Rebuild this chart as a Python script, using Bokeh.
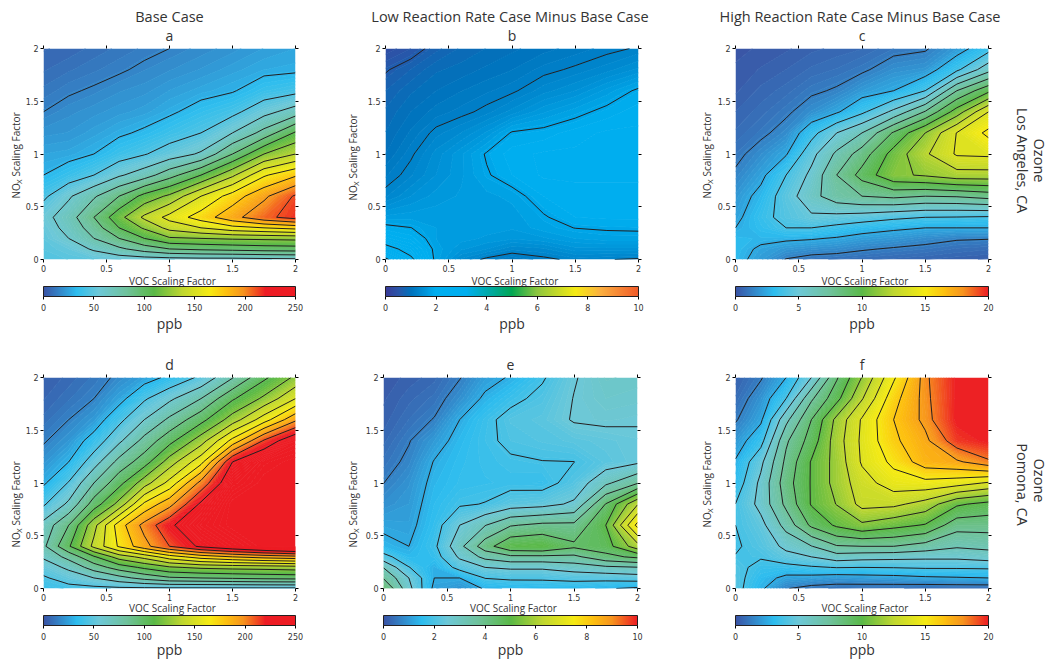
import math
import numpy as np
from bokeh.embed import file_html
from bokeh.layouts import column, row
from bokeh.models import (ColorBar, FixedTicker, Label, LinearAxis, LinearColorMapper,
                          NumeralTickFormatter)
from bokeh.plotting import figure
from bokeh.resources import INLINE

voc = [0, 0.2, 0.4, 0.6, 0.8, 1, 1.25, 1.5, 1.75, 2]
nox = [0, 0.1, 0.2, 0.3, 0.4, 0.6, 0.8, 1, 1.2, 1.4, 1.6, 1.8, 2]
ticks = [0, 0.5, 1, 1.5, 2]

base_la = [
    [46, 48, 50, 52, 53, 54, 55, 55, 56, 57],
    [48, 52, 62, 72, 82, 90, 93, 95, 97, 98],
    [50, 60, 75, 90, 105, 118, 120, 122, 123, 124],
    [52, 65, 82, 105, 122, 140, 150, 160, 165, 170],
    [55, 68, 90, 115, 138, 155, 172, 190, 206, 216],
    [42, 58, 73, 90, 110, 123, 150, 172, 192, 212],
    [30, 37, 45, 58, 68, 84, 105, 132, 163, 178],
    [25, 26, 30, 38, 44, 52, 62, 90, 120, 135],
    [20, 21, 24, 28, 32, 38, 45, 60, 80, 107],
    [15, 18, 20, 22, 24, 28, 35, 41, 55, 67],
    [11, 14, 16, 18.5, 20, 23, 26, 29, 37, 41],
    [8, 10, 12, 14, 16.5, 18.5, 21, 24, 27, 28],
    [6, 7, 9, 11, 13, 15, 17.5, 20, 23, 25],
]
low_la = [
    [3.2, 2.6, 1.8, 1.4, 1.2, 1.1, 1.2, 1.3, 1.26, 1.22],
    [2.7, 2.3, 1.8, 1.6, 1.5, 1.35, 1.4, 1.55, 1.55, 1.55],
    [2.2, 2.05, 1.75, 1.7, 1.65, 1.6, 1.65, 1.75, 1.8, 1.8],
    [1.95, 1.88, 1.75, 1.72, 1.7, 1.68, 1.8, 1.88, 1.9, 1.91],
    [1.7, 1.72, 1.72, 1.7, 1.7, 1.7, 1.85, 2, 2.02, 2.02],
    [1.32, 1.5, 1.62, 1.68, 1.72, 1.78, 2, 2.05, 2.05, 2.05],
    [1.15, 1.32, 1.5, 1.65, 1.85, 2, 2.1, 2.1, 2.1, 2.1],
    [1, 1.22, 1.45, 1.65, 1.9, 2.05, 2.1, 2.1, 2.1, 2.1],
    [0.92, 1.1, 1.3, 1.42, 1.6, 1.9, 1.95, 2.05, 2.1, 2.1],
    [0.85, 1, 1.12, 1.2, 1.3, 1.45, 1.65, 1.8, 1.95, 2.05],
    [0.75, 0.9, 1, 1.08, 1.15, 1.22, 1.38, 1.5, 1.7, 1.92],
    [0.6, 0.75, 0.9, 0.95, 1.02, 1.08, 1.2, 1.28, 1.38, 1.52],
    [0.35, 0.5, 0.72, 0.85, 0.92, 0.98, 1.05, 1.12, 1.2, 1.27],
]
high_la = [
    [2.9, 2.05, 1.2, 0.9, 0.8, 0.7, 0.6, 0.5, 0.4, 0.3],
    [3, 2.3, 1.9, 1.7, 1.6, 1.35, 1.15, 1, 0.8, 0.7],
    [2.9, 2.8, 2.7, 2.6, 2.4, 2.1, 1.9, 1.6, 1.35, 1.3],
    [2.5, 3.1, 3.75, 3.75, 3.4, 3, 2.7, 2.5, 2.5, 2.5],
    [2.2, 3.3, 4.2, 4.8, 4.6, 4.4, 4, 3.75, 3.7, 3.6],
    [1.9, 2.85, 4.4, 5.8, 7, 7.5, 7.8, 7.5, 7.6, 8],
    [1.4, 2.2, 3.75, 5.3, 7.5, 9.2, 11, 11.4, 12, 12],
    [1, 1.65, 2.4, 4.6, 6.5, 8.1, 10.5, 12.3, 13.9, 14],
    [0.7, 1.05, 1.6, 3.3, 5, 6.25, 8.9, 11.25, 13.8, 15.3],
    [0.5, 0.75, 1.1, 1.7, 2.35, 3.5, 5.3, 7.6, 10.6, 13.75],
    [0.3, 0.55, 0.75, 1.1, 1.35, 2, 2.5, 3.75, 7.5, 9.7],
    [0.2, 0.35, 0.5, 0.7, 0.85, 1.1, 1.7, 1.9, 3.5, 5.8],
    [0.1, 0.2, 0.3, 0.45, 0.55, 0.65, 1, 1.15, 2, 3.3],
]
base_pom = [
    [38, 40, 41, 42, 42, 42, 42, 42, 42, 42],
    [43, 52, 60, 70, 80, 88, 90, 92, 94, 95],
    [52, 63, 82, 97, 108, 118, 123, 125, 126, 128],
    [62, 80, 103, 127, 140, 158, 172, 180, 186, 190],
    [72, 103, 139, 167, 190, 210, 228, 240, 250, 260],
    [65, 90, 130, 173, 200, 222, 240, 250, 260, 260],
    [43, 63, 97, 125, 168, 190, 228, 250, 260, 260],
    [28, 46, 75, 100, 128, 155, 200, 240, 255, 260],
    [20, 30, 53, 80, 98, 127, 160, 225, 245, 260],
    [14, 21, 36, 57, 80, 100, 128, 170, 212, 240],
    [9, 15, 22, 41, 60, 78, 100, 127, 158, 192],
    [6, 10, 15, 25, 43, 57, 75, 103, 123, 150],
    [4, 7, 11, 17, 24, 33, 48, 74, 102, 123],
]
low_pom = [
    [4.4, 2.7, 1.1, 0.9, 1.3, 1.35, 1.4, 1.4, 1.3, 1.15],
    [3.7, 2.5, 1.25, 1.25, 1.9, 2, 2, 2.1, 2.1, 2.2],
    [3.1, 1.9, 1.3, 2.1, 2.5, 2.6, 2.6, 2.8, 3, 3.1],
    [2.1, 1.45, 1.6, 2.6, 3.3, 3.6, 3.6, 3.6, 4.2, 4.5],
    [1.4, 1.25, 1.75, 2.95, 4.1, 4.9, 5, 4.5, 4.7, 6],
    [1.15, 1.1, 1.6, 2.5, 3.1, 3.7, 3.9, 3.9, 5, 7.7],
    [0.85, 1, 1.5, 1.8, 1.9, 2.2, 2.3, 2.6, 4.4, 6.2],
    [0.62, 0.9, 1.4, 1.6, 1.65, 1.7, 1.65, 2.1, 3, 3.7],
    [0.45, 0.72, 1.28, 1.55, 1.7, 1.8, 1.86, 1.87, 2.2, 2.4],
    [0.3, 0.6, 1, 1.45, 1.75, 2, 2.1, 2.2, 2.3, 2.4],
    [0.2, 0.42, 0.65, 1.25, 1.7, 2.1, 2.2, 2.55, 2.6, 2.55],
    [0.15, 0.3, 0.45, 0.85, 1.35, 1.7, 2.05, 2.52, 2.75, 2.7],
    [0.1, 0.2, 0.3, 0.6, 1.05, 1.3, 1.8, 2.45, 2.85, 2.8],
]
high_pom = [
    [4.2, 2.7, 1.3, 0.9, 0.8, 0.75, 0.7, 0.6, 0.6, 0.6],
    [4.2, 3, 2.2, 2.1, 1.9, 2, 2.1, 2.3, 2.4, 2.5],
    [4.1, 3.4, 3.3, 3.6, 3.8, 3.75, 3.8, 3.9, 3.9, 3.95],
    [3.8, 3.85, 4.6, 5, 5.7, 5.5, 5.4, 5.3, 5.3, 5.6],
    [3.6, 4.2, 5.3, 6.2, 7.4, 7.5, 7.5, 7, 6.4, 6.6],
    [3.75, 4.6, 6.7, 9, 10.2, 11, 10.4, 9.9, 8, 8],
    [3.76, 5.4, 7.8, 10.1, 11.3, 12.9, 12.8, 12, 10.2, 9.6],
    [3, 5.3, 8.2, 10.1, 11.7, 13.2, 14.4, 14.6, 14.3, 13.6],
    [2.6, 4.7, 7.8, 10.1, 11.7, 13.9, 15.3, 16.9, 17.3, 18.3],
    [1.9, 3.3, 7.3, 9.3, 11.9, 14, 16, 17.2, 19.5, 22],
    [1.15, 2.3, 5.9, 8.75, 11.6, 13.9, 16.25, 17.8, 22, 24],
    [0.7, 1.8, 3.75, 7.3, 9.6, 12.4, 15.8, 17.9, 23, 24],
    [0.4, 1.15, 2.5, 5, 8.6, 11.3, 14.8, 18, 24, 24],
]

STOPS_MAIN = [(0, "#3a53a4"), (3 / 20, "#2dbdef"), (5 / 20, "#6dc8d8"), (7.5 / 20, "#6fc29b"),
              (10 / 20, "#5ab947"), (12.5 / 20, "#bfd730"), (15 / 20, "#f6eb14"), (16.5 / 20, "#fdc010"),
              (18 / 20, "#f7941e"), (1, "#ed1c24")]
STOPS_SAT = [(f * 220 / 250, c) for f, c in STOPS_MAIN] + [(1, "#ed1c24")]
STOPS_LOW = [(0, "#3a3a98"), (0.05, "#2b55a8"), (0.1, "#0072bc"), (0.2, "#00aeef"), (0.32, "#00aeef"),
             (0.42, "#00a99d"), (0.5, "#00a651"), (0.6, "#8dc63f"), (0.75, "#f6eb14"), (0.85, "#fbb040"),
             (1, "#f15a29")]
LINE = "#231f20"
TEXT = "#333333"
FONT = "Open Sans"
FRAME_H = 211


def make_palette(stops, n):
    fr = [s[0] for s in stops]
    rgb = np.array([[int(s[1][i:i + 2], 16) for i in (1, 3, 5)] for s in stops], dtype=float)
    pos = (np.arange(n) + 0.5) / n
    return ["#%02x%02x%02x" % tuple(int(round(np.interp(t, fr, rgb[:, k]))) for k in range(3)) for t in pos]


def panel(rows, letter, vmax, step, nlines, stops, cb_ticks, frame_left, frame_w, width,
          top, bottom, cb_y, xlab_y, ppb_y):
    height = top + FRAME_H + bottom
    p = figure(width=width, height=height, x_range=(0, 2), y_range=(0, 2), toolbar_location=None,
               output_backend="svg", min_border_left=frame_left, min_border_right=width - frame_left - frame_w,
               min_border_top=top, min_border_bottom=bottom, outline_line_color=None)
    p.grid.visible = False
    p.xaxis.visible = False
    p.yaxis.visible = False
    for side_name in ("left", "right", "above", "below"):
        ax = LinearAxis(ticker=FixedTicker(ticks=ticks), formatter=NumeralTickFormatter(format="0.[0]"),
                        major_tick_in=0, major_tick_out=3, minor_tick_line_color=None, axis_line_color=None,
                        major_tick_line_color="#000000", major_label_text_font="DejaVu Sans",
                        major_label_text_font_size="8px", major_label_text_color=TEXT, major_label_standoff=2)
        if side_name in ("right", "above"):
            ax.ticker = FixedTicker(ticks=[], minor_ticks=ticks)
            ax.major_tick_line_color = None
            ax.minor_tick_line_color = "#000000"
            ax.minor_tick_in = 0
            ax.minor_tick_out = 3
        p.add_layout(ax, side_name)
    z = np.array(rows, dtype=float)
    n = 120
    levels = np.linspace(0, vmax, n + 1)
    pal = make_palette(stops, n)
    p.contour(voc, nox, np.clip(z, 0, vmax * 0.9999), levels=list(levels), fill_color=pal,
              line_color=pal + [pal[-1]], line_width=1)
    p.contour(voc, nox, z, levels=[step * k for k in range(1, nlines + 1)], line_color=LINE, line_width=1)

    def put(text, sx, sy, size, place, angle=0.0, align="center", font=FONT, color=TEXT):
        # sx, sy: px from the frame's left and top edges, turned into data coordinates;
        # the label sits in a side panel, since labels in the centre get clipped to the frame
        p.add_layout(Label(x=sx * 2 / frame_w, y=2 - sy * 2 / FRAME_H, text=text, text_font=font,
                           text_font_size=size, text_color=color, text_align=align, text_baseline="middle",
                           angle=angle), place)

    put(letter, frame_w / 2, -13, "14px", "above")
    put("VOC Scaling Factor", frame_w / 2 + 3, FRAME_H + xlab_y, "10px", "below")
    put("ppb", frame_w / 2, FRAME_H + ppb_y, "14px", "below")
    mapper = LinearColorMapper(palette=make_palette(stops, 256), low=0, high=cb_ticks[-1])
    cb = ColorBar(color_mapper=mapper, ticker=FixedTicker(ticks=cb_ticks), width=frame_w, height=10,
                  orientation="horizontal", location=(0, cb_y), padding=0, margin=0, major_tick_in=0, major_tick_out=3,
                  major_tick_line_color="#000000", minor_tick_line_color=None, bar_line_color="#231f20",
                  bar_line_width=1, border_line_color=None, background_fill_color=None,
                  major_label_text_font="DejaVu Sans", major_label_text_font_size="8px",
                  major_label_text_color=TEXT, label_standoff=4,
                  formatter=NumeralTickFormatter(format="0"))
    p.add_layout(cb)
    return p, put


def ylabel(put, sx, sy, place_no, place_rest):
    a = math.pi / 2
    put("NO", sx, sy, "10px", place_no, angle=a, align="left")
    put("X", sx + 3, sy - 14.5, "8px", place_no, angle=a, align="left")
    put("Scaling Factor", sx, sy - 22, "10px", place_rest, angle=a, align="left")


def side(put, sx_a, sx_b, sy_a, sy_b, t_a, t_b):
    a = -math.pi / 2
    put(t_a, sx_a, sy_a, "14.5px", "right", angle=a)
    put(t_b, sx_b, sy_b, "14.5px", "right", angle=a)


TOP1, BOT1, TOP2, BOT2 = 48, 86, 32, 72
CB1, CB2 = -54, -54
pa, ua = panel(base_la, "a", 250, 15, 14, STOPS_SAT, [0, 50, 100, 150, 200, 250], 43, 252, 340, TOP1, BOT1, CB1, 21, 64)
pb, ub = panel(low_la, "b", 10, 0.625, 5, STOPS_LOW, [0, 2, 4, 6, 8, 10], 45, 253, 340, TOP1, BOT1, CB1, 21, 64)
pc, uc = panel(high_la, "c", 20, 1.25, 12, STOPS_MAIN, [0, 5, 10, 15, 20], 55, 253, 369, TOP1, BOT1, CB1, 21, 64)
pd, ud = panel(base_pom, "d", 250, 15, 15, STOPS_SAT, [0, 50, 100, 150, 200, 250], 43, 252, 340, TOP2, BOT2, CB2, 19, 61)
pe, ue = panel(low_pom, "e", 10, 0.625, 12, STOPS_MAIN, [0, 2, 4, 6, 8, 10], 43, 254, 340, TOP2, BOT2, CB2, 19, 61)
pf, uf = panel(high_pom, "f", 20, 1.25, 15, STOPS_MAIN, [0, 5, 10, 15, 20], 55, 253, 369, TOP2, BOT2, CB2, 19, 61)

ua("Base Case", 252 / 2, -32, "14.5px", "above")
ub("Low Reaction Rate Case Minus Base Case", 253 / 2 - 2, -32, "14.5px", "above")
uc("High Reaction Rate Case Minus Base Case", 253 / 2 - 2, -32, "14.5px", "above")
ylabel(ua, -28, -48 + 198, "right", "right")
ylabel(ub, -33, -48 + 200, "right", "right")
ylabel(uc, -29, -48 + 198, "left", "right")
ylabel(ud, -28, -377 + 547, "right", "right")
ylabel(ue, -31, -377 + 547, "right", "right")
ylabel(uf, -29, -377 + 527, "left", "right")
side(uc, 304, 287, 112, 112, "Ozone", "Los Angeles, CA")
side(uf, 304, 287, 103, 107, "Ozone", "Pomona, CA")

page = column(row(pa, pb, pc, spacing=0), row(pd, pe, pf, spacing=0), spacing=0)
open("out.html", "w").write(file_html(page, INLINE))
